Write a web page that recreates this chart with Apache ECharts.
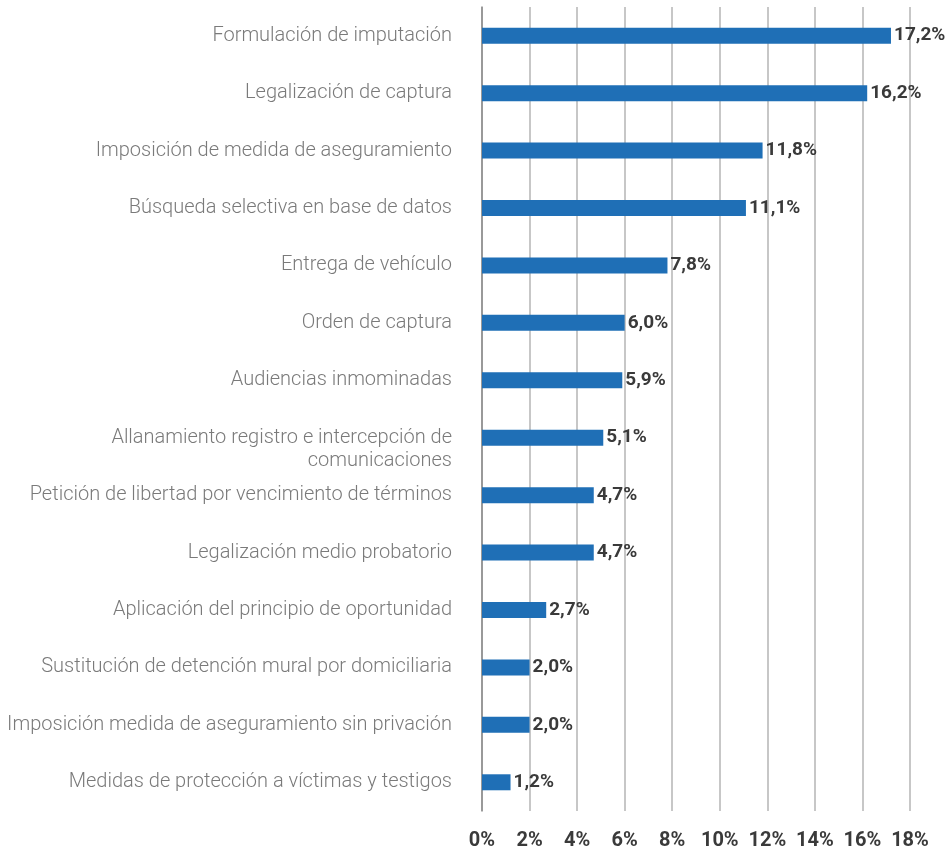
<!DOCTYPE html>
<html>
<head>
<meta charset="utf-8">
<script src="https://cdn.jsdelivr.net/npm/echarts@6/dist/echarts.min.js"></script>
<style>
	html, body {margin:0; padding:0; background:#fff;}
	#chart {width:945px; height:851px;}
</style>
</head>
<body>
<div id="chart"></div>
<script>
// categorias de arriba a abajo
var categorias = [
	"Formulación de imputación",
	"Legalización de captura",
	"Imposición de medida de aseguramiento",
	"Búsqueda selectiva en base de datos",
	"Entrega de vehículo",
	"Orden de captura",
	"Audiencias inmominadas",
	"Allanamiento registro e intercepción de\ncomunicaciones",
	"Petición de libertad por vencimiento de términos",
	"Legalización medio probatorio",
	"Aplicación del principio de oportunidad",
	"Sustitución de detención mural por domiciliaria",
	"Imposición medida de aseguramiento sin privación",
	"Medidas de protección a víctimas y testigos"
];
var porcentajes = [17.2, 16.2, 11.8, 11.1, 7.8, 6.0, 5.9, 5.1, 4.7, 4.7, 2.7, 2.0, 2.0, 1.2];

var myChart = echarts.init(document.getElementById('chart'));
var option = {
	animation: false,
	grid: {
		left: 482,
		top: 7,
		width: 428,
		height: 805
	},
	xAxis: {
		type: 'value',
		min: 0,
		max: 18,
		interval: 2,
		axisLine: {show: false},
		axisTick: {show: false},
		splitLine: {show: true, lineStyle: {color: '#b4b4b4', width: 1.5}},
		axisLabel: {
			margin: 20,
			color: '#3a3a3a',
			fontFamily: 'Roboto',
			fontWeight: 'bold',
			fontSize: 20,
			formatter: function (v) { return v + '%'; }
		}
	},
	yAxis: {
		type: 'category',
		inverse: true,
		data: categorias,
		axisLine: {show: true, lineStyle: {color: '#8a8a8a', width: 1.5}},
		axisTick: {show: false},
		axisLabel: {
			margin: 30,
			color: '#7a7a7a',
			fontFamily: 'Roboto',
			fontWeight: 300,
			fontSize: 20,
			lineHeight: 23,
			align: 'right',
			// la etiqueta de dos lineas arranca a la altura de la barra
			formatter: function (v) {
				return v.indexOf('\n') > -1 ? ' \n' + v : v;
			}
		}
	},
	series: [{
		type: 'bar',
		data: porcentajes,
		barWidth: 16,
		itemStyle: {color: '#1f6fb6'},
		label: {
			show: true,
			position: 'right',
			distance: 3,
			color: '#3a3a3a',
			fontFamily: 'Roboto',
			fontWeight: 'bold',
			fontSize: 19,
			formatter: function (p) { return p.value.toFixed(1).replace('.', ',') + '%'; }
		}
	}]
};
myChart.setOption(option);
</script>
</body>
</html>
